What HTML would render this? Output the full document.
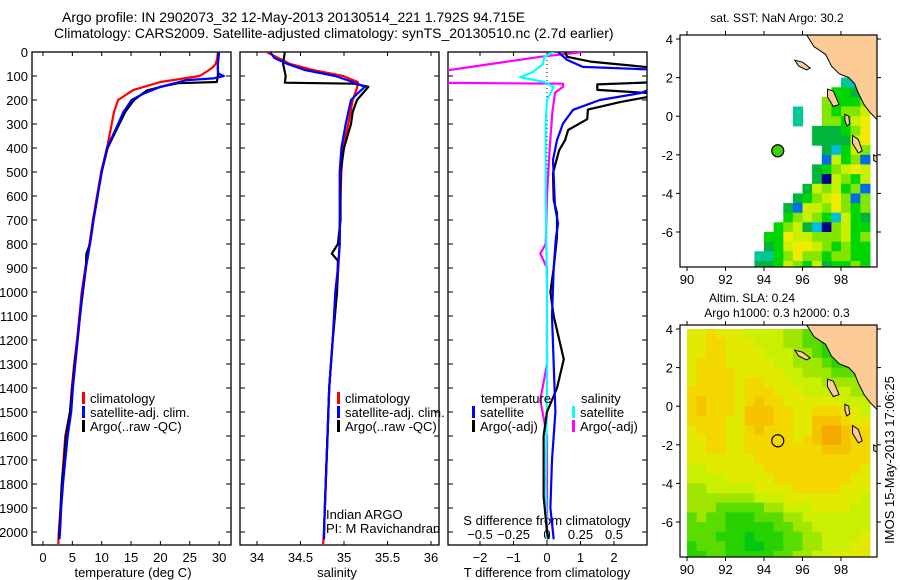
<!DOCTYPE html>
<html><head><meta charset="utf-8"><style>
html,body{margin:0;padding:0;background:#fff;}
svg{display:block;font-family:"Liberation Sans",Arial,sans-serif;}
</style></head><body>
<svg id="fig" width="900" height="580" viewBox="0 0 900 580" xmlns="http://www.w3.org/2000/svg">
<defs>
<clipPath id="c1"><rect x="32" y="52" width="199" height="493"/></clipPath>
<clipPath id="c2"><rect x="240" y="52" width="199" height="493"/></clipPath>
<clipPath id="c3"><rect x="448" y="52" width="199" height="493"/></clipPath>
<clipPath id="cm1"><rect x="680" y="35" width="197" height="232"/></clipPath>
<clipPath id="cm2"><rect x="680" y="325" width="197" height="232"/></clipPath>
</defs>
<text x="62" y="22" font-size="14">Argo profile: IN 2902073_32 12-May-2013 20130514_221 1.792S 94.715E</text>
<text x="54" y="38" font-size="14">Climatology: CARS2009. Satellite-adjusted climatology: synTS_20130510.nc (2.7d earlier)</text>
<g id="g"></g>
</svg>
<script>
// ---- profile data ----
const climTDepth=[0,25,50,62,75,100,125,158,200,250,300,400,500,600,700,800,900,1000,1100,1200,1300,1400,1500,1600,1700,1800,1900,2000,2050];
const climTVal=[29.8,29.7,29.4,29.0,28.3,26.7,20,15.4,12.8,12.1,11.7,10.9,9.9,9.2,8.5,7.9,7.2,6.6,6.2,5.8,5.3,4.9,4.6,3.8,3.5,3.2,3.0,2.7,2.6];
const satTDepth=[0,25,50,75,90,100,110,117,145,175,200,250,300,400,500,600,700,800,900,1000,1100,1200,1300,1400,1500,1600,1700,1800,1900,2000,2030];
const satTVal=[30.0,29.9,29.8,29.8,29.9,30.8,29.0,24.5,20,17,15.1,13.7,12.8,10.9,10.0,9.3,8.6,8.0,7.3,6.7,6.3,5.9,5.5,5.1,4.8,4.2,3.8,3.4,3.1,2.9,2.8];
const argoTDepth=[0,50,100,125,130,140,160,200,250,300,350,400,500,600,700,800,840,900,1000,1100,1200,1300,1400,1500,1600,1700,1800,1900,2000,2030];
const argoTVal=[29.9,29.8,29.8,29.6,23,21,17.7,15.5,14,13,12,11,10,9.3,8.6,8.0,7.4,7.3,6.8,6.3,5.9,5.4,5.0,4.6,3.9,3.6,3.2,3.0,2.8,2.7];
const climSDepth=[0,50,75,100,125,150,200,300,400,500,600,800,1000,1200,1400,1600,1800,2000,2050];
const climSVal=[34.11,34.38,34.64,34.99,35.16,35.15,35.1,35.05,34.99,34.97,34.96,34.95,34.92,34.87,34.83,34.81,34.79,34.77,34.76];
const satSDepth=[0,25,50,75,100,125,145,175,200,300,400,500,800,900,1000,1200,1400,1600,1800,2000,2030];
const satSVal=[34.15,34.2,34.35,34.55,34.9,35.1,35.24,35.15,35.08,35.02,34.97,34.95,34.95,34.93,34.9,34.87,34.83,34.81,34.79,34.77,34.77];
const argoSDepth=[0,50,100,128,132,145,200,250,300,400,500,700,800,840,870,1000,1200,1400,1600,1800,2000,2030];
const argoSVal=[34.32,34.3,34.33,34.32,35.12,35.28,35.15,35.1,35.08,35.0,34.96,34.96,34.93,34.86,34.93,34.92,34.87,34.83,34.81,34.79,34.77,34.77];
const satDTDepth=[0,33,62,75,100,130,171,200,241,297,367,450,645,715,770,900,1100,1300,1500,1700,1900,2030];
const satDTVal=[0.33,0.6,1.07,3.5,4.0,3.5,2.8,1.58,0.78,0.48,0.3,0.18,0.24,0.33,0.27,0.2,0.15,0.2,0.25,0.15,0.1,0.2];
const argoDTDepth=[0,20,40,70,100,125,135,158,175,208,240,280,325,367,410,505,618,670,770,900,1000,1100,1280,1400,1500,1600,1700,1850,2000,2030];
const argoDTVal=[0.54,0.6,1.3,3.5,3.6,3.4,1.5,1.5,3.5,2.2,1.22,1.2,0.63,0.54,0.36,0.18,0.2,0.3,0.3,0.2,0.1,0.2,0.5,0.3,0.0,-0.1,-0.1,-0.1,0.0,0.05];
const argoDSDepth=[0,20,50,89,117,128,132,145,170,250,400,600,800,840,900,1100,1300,1450,1600,1800,2000,2030];
const argoDSVal=[0.27,-0.05,-0.42,-0.9,-0.9,-0.9,0.12,0.12,0.06,0.04,0.02,0.0,-0.01,-0.05,0.0,0.0,0.0,-0.05,0.0,0.0,0.0,0.0];
const satDSDepth=[0,20,50,85,105,125,145,200,300,600,1000,1400,1800,2030];
const satDSVal=[0.05,-0.02,-0.03,-0.11,-0.2,-0.02,0.05,0.0,-0.01,-0.01,0.0,0.0,-0.01,0.0];
const depthTicks=[0,100,200,300,400,500,600,700,800,900,1000,1100,1200,1300,1400,1500,1600,1700,1800,1900,2000];
const tempTicks=[0,5,10,15,20,25,30];
const salTicks=[34,34.5,35,35.5,36];
const dTTicks=[-2,-1,0,1,2];
const dSTicks=[-0.5,-0.25,0,0.25,0.5];
const dSTickLabels=["\u22120.5","\u22120.25","0","0.25","0.5"];
const dTTickLabels=["\u22122","\u22121","0","1","2"];
// ---- map data (0.5 deg cells, lon from 89.5, lat from 4.0 downward) ----
const sstRows=[
"....................","....................","....................","....................",
".................32.","................5545","...............65556","............3..65667",
"............3..66578","..............444568","..............444478","...............42576",
"...............17561","..............456787","..............407657",".............4767561",
"............45678616","...........417768656","...........567652754","..........5674206755",
".........55877666756",".........45788765655","........335686656655","........445765745565"];
const slaRows=[
".6676665555443322223",".6677666555443322223",".6677666655544322223",".6777666665544432233",
".6777766666554443333",".6777767766655544444",".7777767776665555544",".7877767877666666555",
".7877768887766777665",".7777668887766888766",".6777667877766899877",".6677667777767899877",
".6677667777777788877",".6666666777777777777",".5566666677777777776",".5555666667777777766",
".4455555666677777666",".4444444555666666665",".4443333344555666655",".3433222333445555555",
".3333222223344555555",".3332221222334455556",".2333221122334455566",".2233222223344556666"];
const latTicks=[4,2,0,-2,-4,-6];
const lonTicks=[90,92,94,96,98];
const argoLon=94.715, argoLat=-1.792;
const land=[[96.1,4.4],[96.6,3.6],[97.2,3.2],[97.5,2.6],[97.9,2.2],[98.4,2.0],[98.7,1.7],[98.9,1.2],[99.2,0.6],[99.5,0.2],[99.9,-0.2],[99.9,4.4]];
const islands=[
[[95.6,2.9],[96.0,2.8],[96.4,2.5],[96.2,2.4],[95.8,2.6]],
[[97.3,1.4],[97.6,1.3],[97.9,0.6],[97.6,0.5],[97.3,1.0]],
[[98.6,-1.0],[98.9,-1.2],[99.1,-1.8],[98.9,-1.9],[98.6,-1.4]],
[[98.2,0.1],[98.4,0.0],[98.45,-0.4],[98.3,-0.5],[98.2,-0.2]],
[[99.7,-2.0],[99.9,-2.1],[99.9,-2.4],[99.7,-2.3]]];

const NS="http://www.w3.org/2000/svg";
const G=document.getElementById('g');
function mk(tag,attrs,parent){const e=document.createElementNS(NS,tag);for(const k in attrs)e.setAttribute(k,attrs[k]);(parent||G).appendChild(e);return e;}
const yD=d=>52+d*0.24;
const xT=t=>43+t*5.87;
const xS=s=>257+(s-34)*87;
const xDT=v=>547+v*33.5;
const xDS=v=>547+v*134;

function line(depths,vals,xf,color,clip,name){
  const pts=depths.map((d,i)=>xf(vals[i]).toFixed(1)+","+yD(d).toFixed(1)).join(" ");
  const p=mk('polyline',{points:pts,fill:'none',stroke:color,'stroke-width':2.2,'clip-path':'url(#'+clip+')','stroke-linejoin':'round'});
  
  
}
function txt(x,y,s,size,anchor,name){
  const t=mk('text',{x:x,y:y,'font-size':size,'text-anchor':anchor||'start'});
  t.textContent=s;
  
  
  return t;
}
function panel(x0,name){
  const r=mk('rect',{x:x0,y:52,width:199,height:493,fill:'none',stroke:'#000','stroke-width':1.3});
  
  
  depthTicks.forEach(d=>{
    mk('line',{x1:x0,x2:x0+5,y1:yD(d),y2:yD(d),stroke:'#000'});
    mk('line',{x1:x0+199,x2:x0+194,y1:yD(d),y2:yD(d),stroke:'#000'});
  });
}
panel(32,'temperature-panel');panel(240,'salinity-panel');panel(448,'difference-panel');
depthTicks.forEach(d=>txt(28,yD(d)+5,String(d),13,'end','depth-tick-label'));
tempTicks.forEach(t=>{mk('line',{x1:xT(t),x2:xT(t),y1:52,y2:56,stroke:'#000'});mk('line',{x1:xT(t),x2:xT(t),y1:545,y2:541,stroke:'#000'});txt(xT(t),562,String(t),13,'middle','temperature-tick-label');});
txt(133,577,'temperature (deg C)',13,'middle','x-axis-title-temperature');
salTicks.forEach(s=>{mk('line',{x1:xS(s),x2:xS(s),y1:52,y2:56,stroke:'#000'});mk('line',{x1:xS(s),x2:xS(s),y1:545,y2:541,stroke:'#000'});txt(xS(s),562,String(s),13,'middle','salinity-tick-label');});
txt(337,577,'salinity',13,'middle','x-axis-title-salinity');
dTTicks.forEach((v,i)=>{mk('line',{x1:xDT(v),x2:xDT(v),y1:545,y2:541,stroke:'#000'});txt(xDT(v),562,dTTickLabels[i],13,'middle','t-diff-tick-label');});
dSTicks.forEach((v,i)=>{mk('line',{x1:xDS(v),x2:xDS(v),y1:52,y2:56,stroke:'#000'});mk('line',{x1:xDS(v),x2:xDS(v),y1:545,y2:541,stroke:'#000'});txt(xDS(v),539,dSTickLabels[i],13,'middle','s-diff-tick-label');});
txt(547,525,'S difference from climatology',13,'middle','s-diff-axis-title');
txt(547,577,'T difference from climatology',13,'middle','x-axis-title-t-diff');
const zl=mk('line',{x1:547,x2:547,y1:52,y2:545,stroke:'#000','stroke-dasharray':'1,3'});


line(climTDepth,climTVal,xT,'#ff0000','c1','temp-climatology-line');
line(argoTDepth,argoTVal,xT,'#000000','c1','temp-argo-line');
line(satTDepth,satTVal,xT,'#0000ff','c1','temp-satellite-line');
line(climSDepth,climSVal,xS,'#ff0000','c2','salinity-climatology-line');
line(argoSDepth,argoSVal,xS,'#000000','c2','salinity-argo-line');
line(satSDepth,satSVal,xS,'#0000ff','c2','salinity-satellite-line');
line(argoDSDepth,argoDSVal,xDS,'#ff00ff','c3','s-diff-argo-line');
line(satDSDepth,satDSVal,xDS,'#00ffff','c3','s-diff-satellite-line');
line(argoDTDepth,argoDTVal,xDT,'#000000','c3','t-diff-argo-line');
line(satDTDepth,satDTVal,xDT,'#0000ff','c3','t-diff-satellite-line');
function legItem(x,y,color,label,name){
  const b=mk('rect',{x:x,y:y-11,width:3,height:12,fill:color});
  
  
  txt(x+8,y,label,13,'start',name);
}
legItem(82,403,'#ff0000','climatology','legend-climatology');
legItem(82,417,'#0000ff','satellite-adj. clim.','legend-satellite');
legItem(82,431,'#000000','Argo(..raw -QC)','legend-argo');
legItem(337,403,'#ff0000','climatology','legend-climatology-2');
legItem(337,417,'#0000ff','satellite-adj. clim.','legend-satellite-2');
legItem(337,431,'#000000','Argo(..raw -QC)','legend-argo-2');
txt(481,403,'temperature',13,'start','legend-temperature-header');
legItem(472,417,'#0000ff','satellite','legend-t-satellite');
legItem(472,431,'#000000','Argo(-adj)','legend-t-argo');
txt(581,403,'salinity',13,'start','legend-salinity-header');
legItem(572,417,'#00ffff','satellite','legend-s-satellite');
legItem(572,431,'#ff00ff','Argo(-adj)','legend-s-argo');
txt(326,519,'Indian ARGO',13,'start','credit-indian-argo');
txt(326,533,'PI: M Ravichandran',13,'start','credit-pi');

// ---- maps ----
const lonX=lon=>687+(lon-90)*19.25;
const sstColors=['#00008c','#006ee6','#00bedc','#00c896','#00b43c','#00d700','#82e600','#c8f000','#f0eb00','#fac800'];
const slaColors=['#00b428','#00c814','#28d200','#5adc00','#a0e600','#c8f000','#e1ea00','#f5d700','#f5c300','#f5a800'];
function map(y0,rows,colors,clip,name,dotFill){
  const latY=lat=>y0+4+(4-lat)*19.3;
  const g=mk('g',{'clip-path':'url(#'+clip+')'});
  
  
  rows.forEach((row,ri)=>{
    for(let ci=0;ci<row.length;ci++){
      const ch=row[ci]; if(ch==='.')continue;
      const lon=89.5+ci*0.5, lat=4.0-ri*0.5;
      const c=mk('rect',{x:lonX(lon).toFixed(1),y:latY(lat).toFixed(1),width:10.2,height:10.2,fill:colors[+ch]},g);
      
      
    }
  });
  const poly=pts=>pts.map(p=>lonX(p[0]).toFixed(1)+','+latY(p[1]).toFixed(1)).join(' ');
  const l=mk('polygon',{points:poly(land),fill:'#fccb96',stroke:'#000','stroke-width':1},g);
  
  
  islands.forEach(isl=>{const p=mk('polygon',{points:poly(isl),fill:'#fccb96',stroke:'#000','stroke-width':1},g);
    
    });
  const fr=mk('rect',{x:680,y:y0,width:197,height:232,fill:'none',stroke:'#000','stroke-width':1.2});
  
  
  latTicks.forEach(la=>{mk('line',{x1:676,x2:680,y1:latY(la),y2:latY(la),stroke:'#000'});mk('line',{x1:877,x2:881,y1:latY(la),y2:latY(la),stroke:'#000'});txt(673,latY(la)+5,la<0?'-'+(-la):String(la),13,'end',name+'-lat-label');});
  lonTicks.forEach(lo=>{mk('line',{x1:lonX(lo),x2:lonX(lo),y1:y0,y2:y0-4,stroke:'#000'});mk('line',{x1:lonX(lo),x2:lonX(lo),y1:y0+232,y2:y0+236,stroke:'#000'});txt(lonX(lo),y0+249,String(lo),13,'middle',name+'-lon-label');});
  const c=mk('circle',{cx:lonX(argoLon),cy:latY(argoLat),r:6,fill:dotFill,stroke:'#000','stroke-width':1.2});
  
  
}
map(35,sstRows,sstColors,'cm1','sst-map','#3cd200');
map(325,slaRows,slaColors,'cm2','sla-map','none');
txt(777,22,'sat. SST: NaN Argo: 30.2',12,'middle','sst-map-title');
txt(752,302,'Altim. SLA: 0.24',12,'middle','sla-map-title');
txt(777,317,'Argo h1000: 0.3 h2000: 0.3',12,'middle','sla-map-subtitle');
const rt=txt(0,0,'IMOS 15-May-2013 17:06:25',13,'middle','timestamp');
rt.setAttribute('transform','translate(894,460) rotate(-90)');
</script>
</body></html>
